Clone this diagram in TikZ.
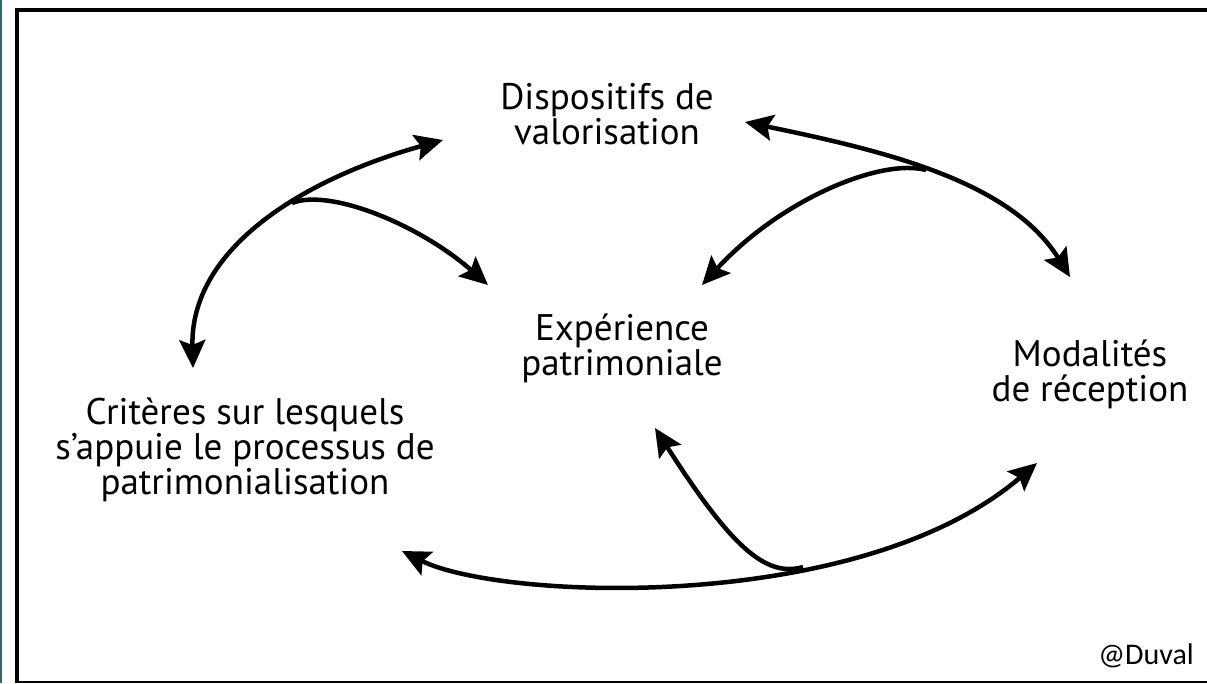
\documentclass[tikz,border=0pt]{standalone}
\usepackage{fontspec}
\setmainfont{PT Sans}
\newfontfamily\credfont{Carlito}
\usetikzlibrary{arrows.meta}
\definecolor{edgeteal}{HTML}{2C6A6E}
\begin{document}
\begin{tikzpicture}[x=1pt,y=-1pt,
  lbl/.style={align=center, inner sep=0pt, font=\fontsize{37}{35}\selectfont},
  headtip/.tip={Stealth[length=28pt,width=26pt,inset=5pt]},
  biarr/.style={line width=4.5pt, headtip-headtip},
  onearr/.style={line width=4.5pt, -headtip}]
\useasboundingbox (0,0) rectangle (1207,683);
% frame
\fill[edgeteal] (0,0) rectangle (2,683);
\draw[line width=4pt] (1207,10) -- (17,10) -- (17,683);
\draw[line width=2pt] (17,682) -- (1207,682);
% labels
\node[lbl] (disp) at (607,114) {Dispositifs de\\valorisation};
\node[lbl] (exp) at (622,348) {Expérience\\patrimoniale};
\node[lbl] (mod) at (1090,374) {Modalités\\de réception};
\node[lbl] (crit) at (245,450) {Critères sur lesquels\\s’appuie le processus de\\patrimonialisation};
\node[anchor=base east, inner sep=0pt, font=\credfont\fontsize{30}{32}\selectfont] (cred) at (1194,664) {@Duval};
% group 1
\coordinate (t1d) at (193,368);
\coordinate (t1u) at (443,140);
\coordinate (j1) at (292,203);
\coordinate (t1b) at (488,285);
\draw[biarr] (t1d) .. controls (190,250) and (300,180) .. (t1u);
\draw[onearr] (j1) .. controls (330,188) and (420,225) .. (t1b);
% group 2
\coordinate (t2l) at (745,122);
\coordinate (t2r) at (1070,277);
\coordinate (j2) at (926,170);
\coordinate (t2b) at (702,285);
\draw[biarr] (t2l) .. controls (880,150) and (1010,180) .. (t2r);
\draw[onearr] (j2) .. controls (880,158) and (780,200) .. (t2b);
% group 3
\coordinate (t3l) at (402,551);
\coordinate (t3r) at (1037,463);
\coordinate (j3) at (803,567);
\coordinate (t3b) at (655,428);
\draw[biarr] (t3l) .. controls (500,600) and (860,615) .. (t3r);
\draw[onearr] (j3) .. controls (765,578) and (730,545) .. (t3b);
\end{tikzpicture}
\end{document}
